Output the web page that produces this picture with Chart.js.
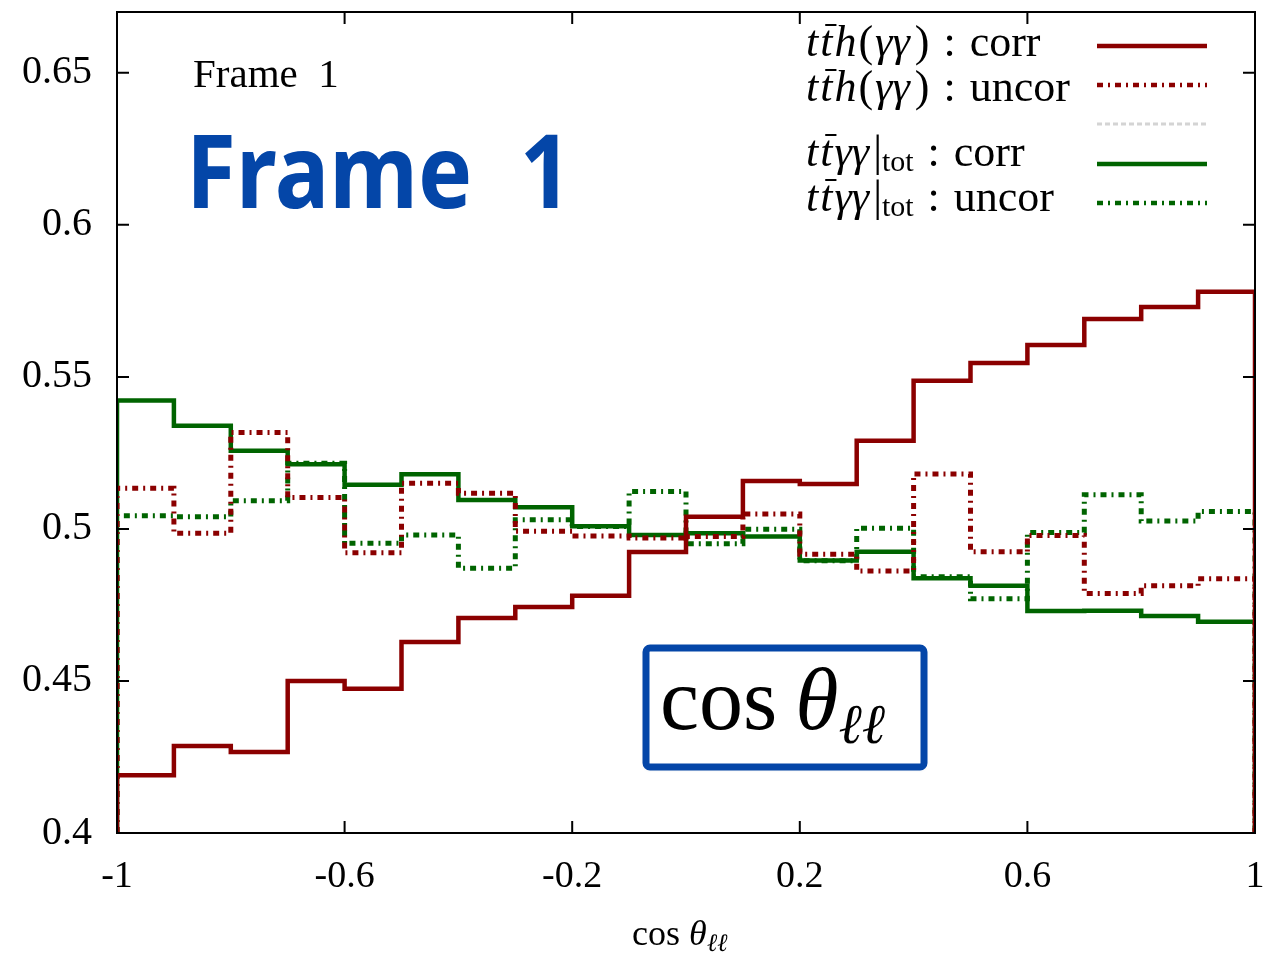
<!DOCTYPE html>
<html>
<head>
<meta charset="utf-8">
<script src="https://cdn.jsdelivr.net/npm/chart.js@4.4.0/dist/chart.umd.min.js"></script>
<style>
  html, body { margin: 0; padding: 0; background: #fff; }
  #wrap { width: 1267px; height: 953px; }
</style>
</head>
<body>
<div id="wrap"><canvas id="c" width="1267" height="953"></canvas></div>
<script>
// bin edges of cos(theta_ll), 20 bins
const binEdges = [-1, -0.9, -0.8, -0.7, -0.6, -0.5, -0.4, -0.3, -0.2, -0.1, 0,
                  0.1, 0.2, 0.3, 0.4, 0.5, 0.6, 0.7, 0.8, 0.9, 1];

const tthCorr   = [0.419, 0.4286, 0.4266, 0.450, 0.4474, 0.4628, 0.4707, 0.4743, 0.478, 0.4924,
                   0.504, 0.5158, 0.5148, 0.529, 0.5487, 0.5546, 0.5605, 0.569, 0.573, 0.578];
const tthUncor  = [0.5134, 0.4986, 0.5317, 0.5103, 0.4922, 0.515, 0.5117, 0.4992, 0.4977, 0.497,
                   0.4975, 0.5049, 0.4917, 0.4862, 0.5181, 0.4925, 0.4978, 0.4788, 0.4813, 0.4836];
const ttaaCorr  = [0.5422, 0.5339, 0.5257, 0.5213, 0.5145, 0.518, 0.5095, 0.5071, 0.5009, 0.498,
                   0.4986, 0.4975, 0.4896, 0.4925, 0.4838, 0.4813, 0.473, 0.4731, 0.4714, 0.4695];
const ttaaUncor = [0.5043, 0.504, 0.5093, 0.5216, 0.4953, 0.498, 0.4871, 0.503, 0.5008, 0.5123,
                   0.4951, 0.4999, 0.4895, 0.5002, 0.4843, 0.477, 0.4988, 0.5112, 0.5026, 0.5057];

const xTicks = [-1, -0.6, -0.2, 0.2, 0.6, 1];
const yTicks = [0.4, 0.45, 0.5, 0.55, 0.6, 0.65];
const yMin = 0.4, yMax = 0.67;

const RED = '#8b0000', GREEN = '#006400', BLUE = '#0446a8';
const DASHDOT = [6, 5, 2, 5];
const SERIF = '"Liberation Serif", "DejaVu Serif", serif';

// histogram steps, dropping to the axis at both ends
function steps(vals) {
  const pts = [{ x: binEdges[0], y: yMin }];
  vals.forEach((v, i) => {
    pts.push({ x: binEdges[i], y: v });
    pts.push({ x: binEdges[i + 1], y: v });
  });
  pts.push({ x: binEdges[binEdges.length - 1], y: yMin });
  return pts;
}

function mkSet(label, vals, color, dash) {
  return {
    label: label,
    data: steps(vals),
    borderColor: color,
    borderWidth: dash.length ? 5 : 4.5,
    borderDash: dash,
    pointRadius: 0,
    tension: 0,
    fill: false,
  };
}

// no extra room for the outer tick labels
function noPad(s) {
  s.paddingTop = 0; s.paddingBottom = 0; s.paddingLeft = 0; s.paddingRight = 0;
}

// draw text made of pieces (italic / upright / subscript)
function drawRich(ctx, x, y, parts) {
  parts.forEach(p => {
    ctx.font = p.f;
    const w = ctx.measureText(p.t).width;
    ctx.fillText(p.t, x, y + (p.dy || 0));
    if (p.bar) {
      ctx.save();
      ctx.lineWidth = 2;
      ctx.beginPath();
      ctx.moveTo(x + 5, y - p.bar);
      ctx.lineTo(x + w + 4, y - p.bar);
      ctx.stroke();
      ctx.restore();
    }
    x += w + (p.sp || 0);
  });
  return x;
}

const LSIZE = 44;
const it = () => 'italic ' + LSIZE + 'px ' + SERIF;
const rm = () => LSIZE + 'px ' + SERIF;

const legendRows = [
  { y: 56, line: 46, color: RED, dash: [], parts: 'tth', tail: 'corr' },
  { y: 101, line: 85, color: RED, dash: DASHDOT, parts: 'tth', tail: 'uncor' },
  { y: 0, line: 124, color: '#d4d4d4', dash: [5, 3], parts: null },
  { y: 166, line: 164, color: GREEN, dash: [], parts: 'ttaa', tail: 'corr' },
  { y: 211, line: 203, color: GREEN, dash: DASHDOT, parts: 'ttaa', tail: 'uncor' },
];

const decor = {
  id: 'decor',
  afterDraw(chart) {
    const ctx = chart.ctx;
    const a = chart.chartArea;
    const xs = chart.scales.x, ys = chart.scales.y;
    ctx.save();

    // frame and inward ticks
    ctx.strokeStyle = '#000';
    ctx.lineWidth = 2;
    ctx.strokeRect(a.left, a.top, a.right - a.left, a.bottom - a.top);
    ctx.beginPath();
    xTicks.forEach(v => {
      const px = xs.getPixelForValue(v);
      ctx.moveTo(px, a.bottom); ctx.lineTo(px, a.bottom - 12);
      ctx.moveTo(px, a.top); ctx.lineTo(px, a.top + 12);
    });
    yTicks.forEach(v => {
      const py = ys.getPixelForValue(v);
      ctx.moveTo(a.left, py); ctx.lineTo(a.left + 12, py);
      ctx.moveTo(a.right, py); ctx.lineTo(a.right - 12, py);
    });
    ctx.stroke();

    // x axis title
    ctx.fillStyle = '#000';
    ctx.textBaseline = 'alphabetic';
    ctx.textAlign = 'left';
    drawRich(ctx, 632, 945, [
      { t: 'cos ', f: '36px ' + SERIF },
      { t: 'θ', f: 'italic 36px ' + SERIF },
      { t: 'ℓℓ', f: 'italic 25px ' + SERIF, dy: 6 },
    ]);

    // frame labels
    ctx.font = '41px ' + SERIF;
    ctx.fillText('Frame  1', 193, 87);
    ctx.save();
    ctx.fillStyle = BLUE;
    ctx.font = 'bold 91px "Noto Sans", sans-serif';
    ctx.translate(186, 208);
    ctx.scale(1, 1.13);
    ctx.fillText('Frame  1', 0, 0);
    ctx.restore();

    // boxed cos theta
    ctx.save();
    ctx.shadowColor = 'rgba(0,0,0,0.35)';
    ctx.shadowBlur = 4;
    ctx.shadowOffsetY = 1;
    ctx.fillStyle = '#fff';
    ctx.beginPath();
    ctx.roundRect(646, 648, 278, 119, 4);
    ctx.fill();
    ctx.restore();
    ctx.strokeStyle = BLUE;
    ctx.lineWidth = 7;
    ctx.beginPath();
    ctx.roundRect(646, 648, 278, 119, 4);
    ctx.stroke();
    ctx.fillStyle = '#000';
    drawRich(ctx, 660, 729, [
      { t: 'cos', f: '88px "Liberation Serif"', sp: 18 },
      { t: 'θ', f: 'italic 88px "Liberation Serif"' },
      { t: 'ℓℓ', f: 'italic 56px "DejaVu Serif"', dy: 14 },
    ]);

    // legend
    legendRows.forEach(r => {
      ctx.strokeStyle = r.color;
      ctx.lineWidth = r.parts ? 4.5 : 3;
      ctx.setLineDash(r.dash);
      ctx.beginPath();
      ctx.moveTo(1097, r.line);
      ctx.lineTo(1207, r.line);
      ctx.stroke();
      ctx.setLineDash([]);
      if (!r.parts) return;
      ctx.fillStyle = '#000';
      ctx.strokeStyle = '#000';
      let parts;
      if (r.parts === 'tth') {
        parts = [
          { t: 't', f: it(), sp: 2 }, { t: 't', f: it(), bar: 31, sp: 2 }, { t: 'h', f: it(), sp: 2 },
          { t: '(', f: rm(), sp: 2 }, { t: 'γγ', f: it(), sp: 5 }, { t: ')', f: rm(), sp: 14 },
          { t: ':', f: rm(), sp: 14 }, { t: r.tail, f: rm() },
        ];
      } else {
        parts = [
          { t: 't', f: it(), sp: 2 }, { t: 't', f: it(), bar: 31, sp: 2 },
          { t: 'γγ', f: it(), sp: 4 }, { t: '|', f: rm() },
          { t: 'tot', f: '30px ' + SERIF, dy: 5, sp: 14 },
          { t: ':', f: rm(), sp: 14 }, { t: r.tail, f: rm() },
        ];
      }
      drawRich(ctx, 806, r.y, parts);
    });

    ctx.restore();
  }
};

new Chart(document.getElementById('c').getContext('2d'), {
  type: 'line',
  data: {
    datasets: [
      mkSet('tth corr', tthCorr, RED, []),
      mkSet('tth uncor', tthUncor, RED, DASHDOT),
      mkSet('ttaa corr', ttaaCorr, GREEN, []),
      mkSet('ttaa uncor', ttaaUncor, GREEN, DASHDOT),
    ]
  },
  options: {
    responsive: false,
    animation: false,
    layout: { autoPadding: false, padding: { top: 12, right: 12, left: 0, bottom: 0 } },
    plugins: { legend: { display: false }, tooltip: { enabled: false } },
    scales: {
      x: {
        type: 'linear',
        min: -1,
        max: 1,
        afterBuildTicks: s => { s.ticks = xTicks.map(v => ({ value: v })); },
        afterFit: s => { s.height = 120; noPad(s); },
        ticks: {
          callback: v => String(v),
          font: { family: SERIF, size: 38 },
          color: '#000',
          padding: 21,
          maxRotation: 0,
          autoSkip: false,
        },
        grid: { display: false, drawTicks: false },
        border: { display: false },
      },
      y: {
        min: yMin,
        max: yMax,
        afterBuildTicks: s => { s.ticks = yTicks.map(v => ({ value: v })); },
        afterFit: s => { s.width = 117; noPad(s); },
        ticks: {
          callback: v => String(v),
          font: { family: SERIF, size: 40 },
          color: '#000',
          padding: 25,
        },
        grid: { display: false, drawTicks: false },
        border: { display: false },
      }
    }
  },
  plugins: [decor]
});
</script>
</body>
</html>
